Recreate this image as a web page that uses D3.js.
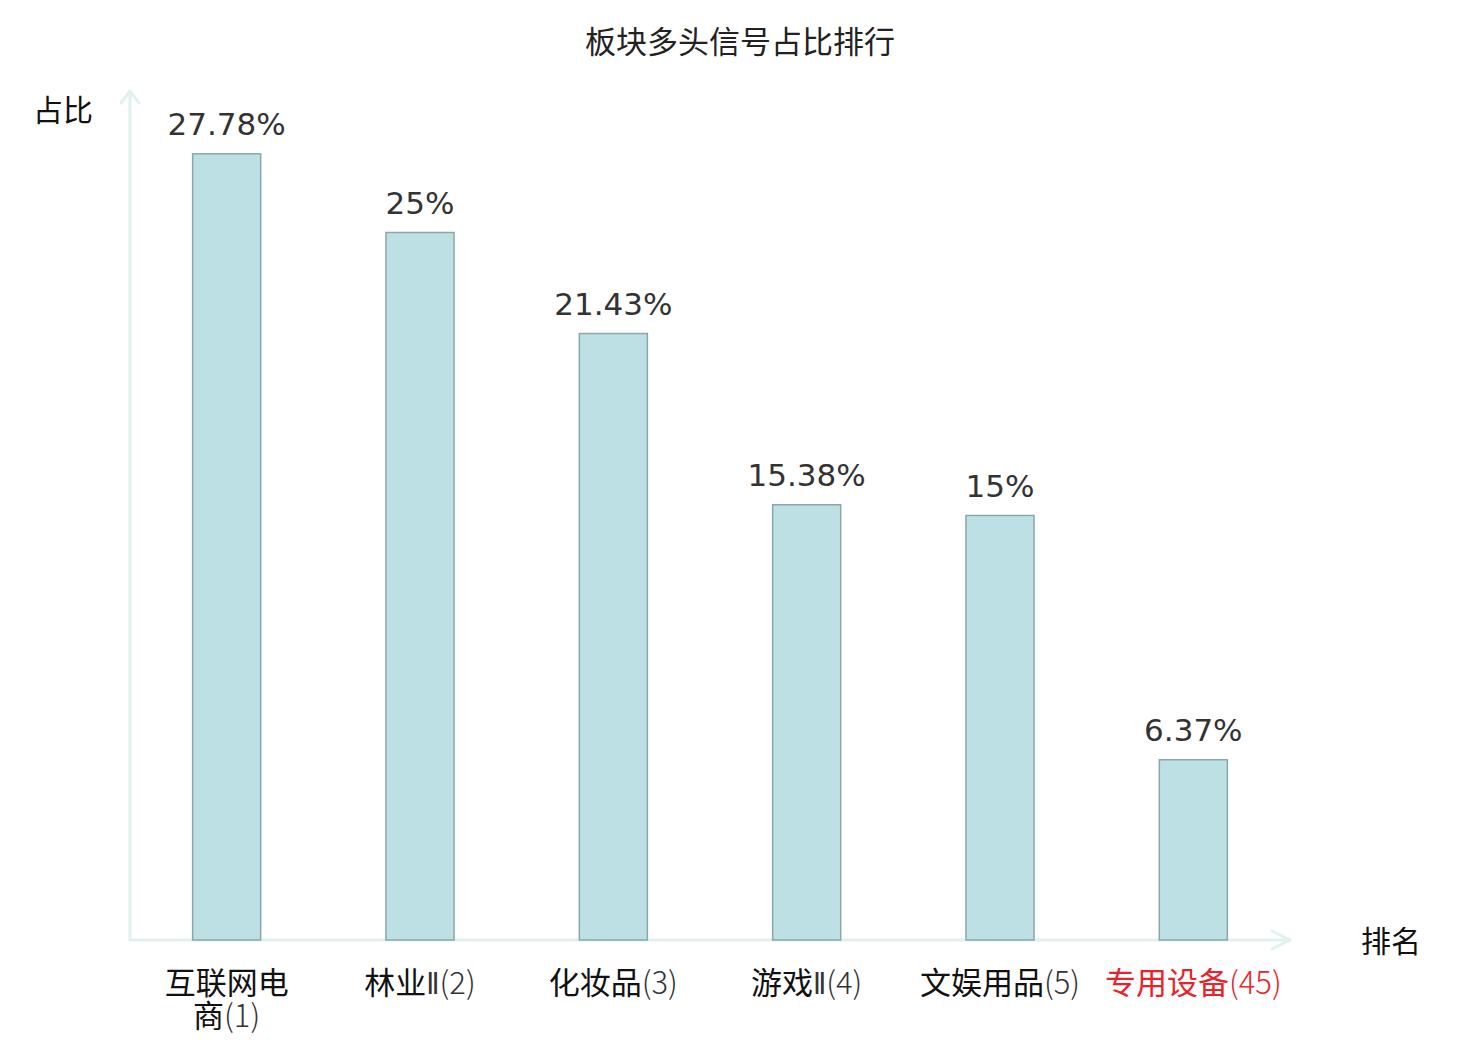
<!DOCTYPE html>
<html>
<head>
<meta charset="utf-8">
<script src="https://cdn.jsdelivr.net/npm/d3@7"></script>
<style>
  html, body { margin: 0; padding: 0; background: #fff; }
  svg { display: block; }
</style>
</head>
<body>
<div id="chart"></div>
<script>
// ─── Data ────────────────────────────────────────────────────────────────
const sectors = ['互联网电商', '林业', '化妆品', '游戏', '文娱用品', '专用设备'];
const sectorSuffix = ['', 'Ⅱ', '', 'Ⅱ', '', ''];
const ranks = [1, 2, 3, 4, 5, 45];
const shares = [27.78, 25, 21.43, 15.38, 15, 6.37];
const shareLabels = ['27.78%', '25%', '21.43%', '15.38%', '15%', '6.37%'];
const highlighted = [false, false, false, false, false, true];

const W = 1480, H = 1040;
const FONT = '"Noto Sans CJK SC", "DejaVu Sans", sans-serif';
const NUM_FONT = '"DejaVu Sans", "Noto Sans CJK SC", sans-serif';

const svg = d3.select('#chart').append('svg')
    .attr('width', W).attr('height', H);

const x0 = 130, x1 = 1290, yBase = 940;

const x = d3.scaleBand()
    .domain(sectors)
    .range([x0, x1])
    .paddingInner(0.648)
    .paddingOuter(0.324);

const y = d3.scaleLinear()
    .domain([0, 30])
    .range([yBase, 91]);

// ─── Axes (plain lines with open arrow heads) ─────────────────────────────
const axisColor = '#dff2f0';
const axes = svg.append('g')
    .attr('fill', 'none')
    .attr('stroke', axisColor)
    .attr('stroke-width', 3)
    .attr('stroke-linecap', 'round')
    .attr('stroke-linejoin', 'round');

axes.append('line')
    .attr('x1', x0).attr('y1', yBase)
    .attr('x2', x0).attr('y2', y(30));
axes.append('path')
    .attr('d', `M ${x0 - 9} ${y(30) + 12} L ${x0} ${y(30)} L ${x0 + 9} ${y(30) + 12}`);

axes.append('line')
    .attr('x1', x0).attr('y1', yBase)
    .attr('x2', x1).attr('y2', yBase);
axes.append('path')
    .attr('d', `M ${x1 - 18} ${yBase - 9} L ${x1} ${yBase} L ${x1 - 18} ${yBase + 9}`);

// ─── Bars ────────────────────────────────────────────────────────────────
svg.append('g').selectAll('rect')
    .data(sectors)
    .enter().append('rect')
    .attr('x', d => x(d))
    .attr('y', (d, i) => y(shares[i]))
    .attr('width', x.bandwidth())
    .attr('height', (d, i) => yBase - y(shares[i]))
    .attr('fill', '#bce0e3')
    .attr('stroke', '#8aa7a9')
    .attr('stroke-width', 1.5);

// Value labels
svg.append('g').selectAll('text')
    .data(sectors)
    .enter().append('text')
    .attr('x', d => x(d) + x.bandwidth() / 2)
    .attr('y', (d, i) => y(shares[i]) - 19)
    .attr('text-anchor', 'middle')
    .style('font-family', NUM_FONT)
    .style('font-size', '31px')
    .style('fill', '#333')
    .text((d, i) => shareLabels[i]);

// ─── Category labels ─────────────────────────────────────────────────────
const catG = svg.append('g');

function addLabel(cx, yy, head, suffix, tail, color, numColor) {
    const t = catG.append('text')
        .attr('x', cx).attr('y', yy)
        .attr('text-anchor', 'middle')
        .style('font-family', FONT)
        .style('font-size', '31px')
        .style('fill', color);
    if (head) t.append('tspan').text(head);
    // roman numeral drawn narrow and thin, like the digits
    if (suffix) {
        t.append('tspan')
            .style('font-family', '"DejaVu Sans Condensed", "DejaVu Sans", sans-serif')
            .style('font-weight', 200)
            .style('font-size', '30px')
            .style('fill', numColor)
            .text(suffix);
    }
    if (tail) t.append('tspan').style('font-weight', 300).style('fill', numColor).text(tail);
}

sectors.forEach((s, i) => {
    const cx = x(s) + x.bandwidth() / 2;
    const color = highlighted[i] ? '#e8232a' : '#111';
    const numColor = highlighted[i] ? '#e8232a' : '#333';
    const tail = `(${ranks[i]})`;
    // first label is too wide for its slot and wraps after four characters
    if (i === 0) {
        addLabel(cx, 994, s.slice(0, 4), '', '', color, numColor);
        addLabel(cx, 1027, s.slice(4), sectorSuffix[i], tail, color, numColor);
    } else {
        addLabel(cx, 994, s, sectorSuffix[i], tail, color, numColor);
    }
});

// ─── Titles ──────────────────────────────────────────────────────────────
svg.append('text')
    .attr('x', W / 2).attr('y', 53)
    .attr('text-anchor', 'middle')
    .style('font-family', FONT)
    .style('font-size', '31px')
    .style('fill', '#222')
    .text('板块多头信号占比排行');

svg.append('text')
    .attr('x', 33).attr('y', 121)
    .style('font-family', FONT)
    .style('font-size', '30px')
    .style('fill', '#111')
    .text('占比');

svg.append('text')
    .attr('x', 1361).attr('y', 952)
    .style('font-family', FONT)
    .style('font-size', '30px')
    .style('fill', '#111')
    .text('排名');
</script>
</body>
</html>
